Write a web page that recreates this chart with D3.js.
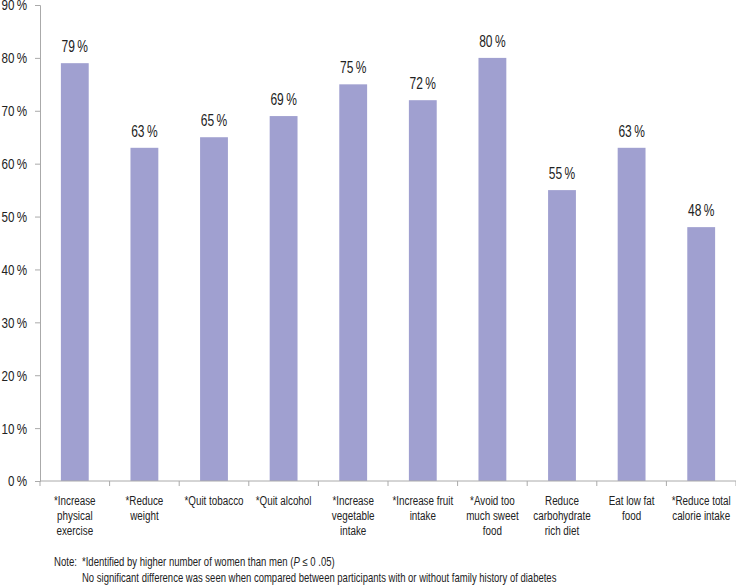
<!DOCTYPE html>
<html>
<head>
<meta charset="utf-8">
<script src="https://cdn.jsdelivr.net/npm/d3@7"></script>
<style>
  body { margin: 0; background: #fff; }
  text { font-family: "Liberation Sans", Arial, sans-serif; fill: #222; }
</style>
</head>
<body>
<svg id="chart"></svg>
<script>
// data
var categories = [
    ["*Increase", "physical", "exercise"],
    ["*Reduce", "weight"],
    ["*Quit tobacco"],
    ["*Quit alcohol"],
    ["*Increase", "vegetable", "intake"],
    ["*Increase fruit", "intake"],
    ["*Avoid too", "much sweet", "food"],
    ["Reduce", "carbohydrate", "rich diet"],
    ["Eat low fat", "food"],
    ["*Reduce total", "calorie intake"]
];
var values = [79, 63, 65, 69, 75, 72, 80, 55, 63, 48];
var yTicks = [0, 10, 20, 30, 40, 50, 60, 70, 80, 90];

var width = 736, height = 585;
var margin = {left: 40, right: 0, top: 5, bottom: 104};
var sx = 0.75; // squeeze to mimic the condensed face

var svg = d3.select("#chart")
    .attr("width", width)
    .attr("height", height);

var x = d3.scaleBand()
    .domain(d3.range(values.length))
    .range([margin.left, width - margin.right])
    .paddingInner(0.6)
    .paddingOuter(0.3);

var step = (width - margin.right - margin.left) / values.length;

var y = d3.scaleLinear()
    .domain([0, 90])
    .range([height - margin.bottom, margin.top]);

// y axis
var yAxis = svg.append("g")
    .attr("transform", "translate(" + margin.left + ",0)")
    .call(d3.axisLeft(y).tickValues(yTicks).tickSize(5).tickPadding(4)
        .tickFormat(function (d) { return d + "\u2009%"; }));
yAxis.selectAll("text")
    .style("font-size", "15.5px")
    .attr("x", 0)
    .attr("transform", "translate(-13,0) scale(" + sx + ",1)");
yAxis.select(".domain").attr("stroke", "#aaa");
yAxis.selectAll(".tick line").attr("stroke", "#aaa");

// bars
svg.selectAll("rect.bar")
    .data(values)
    .enter().append("rect")
    .attr("class", "bar")
    .attr("x", function (d, i) { return x(i); })
    .attr("width", x.bandwidth())
    .attr("y", function (d) { return y(d); })
    .attr("height", function (d) { return y(0) - y(d); })
    .attr("fill", "#a0a0d0");

// value labels
svg.selectAll("text.val")
    .data(values)
    .enter().append("text")
    .attr("class", "val")
    .attr("text-anchor", "middle")
    .attr("transform", function (d, i) {
        return "translate(" + (x(i) + x.bandwidth() / 2) + "," + (y(d) - 11) + ") scale(" + sx + ",1)";
    })
    .style("font-size", "16px")
    .text(function (d) { return d + "\u2009%"; });

// x axis line and ticks
var base = y(0);
svg.append("line")
    .attr("x1", margin.left).attr("x2", width)
    .attr("y1", base).attr("y2", base)
    .attr("stroke", "#aaa");
svg.selectAll("line.xtick")
    .data(d3.range(values.length + 1))
    .enter().append("line")
    .attr("class", "xtick")
    .attr("x1", function (d) { return margin.left + d * step; })
    .attr("x2", function (d) { return margin.left + d * step; })
    .attr("y1", base).attr("y2", base + 5)
    .attr("stroke", "#aaa");

// category labels
var cat = svg.selectAll("text.cat")
    .data(categories)
    .enter().append("text")
    .attr("class", "cat")
    .attr("text-anchor", "middle")
    .style("font-size", "13.5px")
    .attr("transform", function (d, i) {
        return "translate(" + (x(i) + x.bandwidth() / 2) + "," + (base + 24) + ") scale(0.73,1)";
    });
cat.selectAll("tspan")
    .data(function (d) { return d; })
    .enter().append("tspan")
    .attr("x", 0)
    .attr("dy", function (d, i) { return i ? 14.8 : 0; })
    .text(function (d) { return d; });

// note, squeezed to the widths seen in the picture
function fitText(t, x0, y0, w) {
    var k = w / t.node().getComputedTextLength();
    t.attr("transform", "translate(" + x0 + "," + y0 + ") scale(" + k + ",1)");
}
var n0 = svg.append("text").style("font-size", "12px").text("Note:");
fitText(n0, 54, 566, 23);
var n1 = svg.append("text").style("font-size", "12px");
n1.append("tspan").text("*Identified by higher number of women than  men (");
n1.append("tspan").style("font-style", "italic").text("P");
n1.append("tspan").text(" \u2264 0 .05)");
fitText(n1, 82, 566, 253);
var n2 = svg.append("text").style("font-size", "12px")
    .text("No significant difference was seen when compared between  participants with or without family history of diabetes");
fitText(n2, 82, 582, 475);
</script>
</body>
</html>
